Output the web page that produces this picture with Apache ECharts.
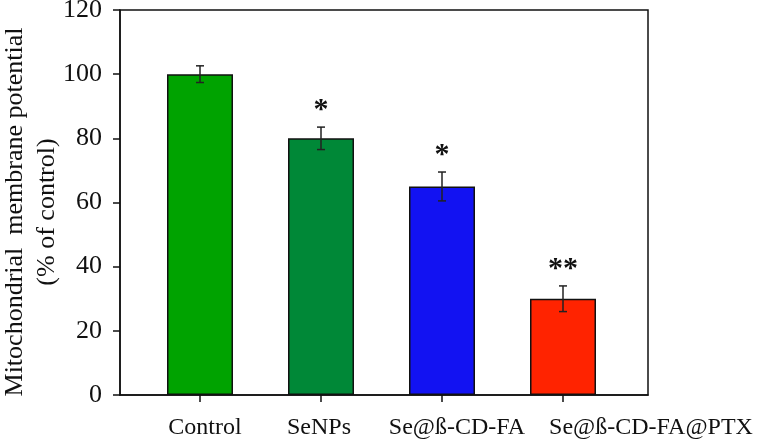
<!DOCTYPE html>
<html>
<head>
<meta charset="utf-8">
<script src="https://cdn.jsdelivr.net/npm/echarts@6/dist/echarts.min.js"></script>
<style>html,body{margin:0;padding:0;background:#fff}#c{width:778px;height:446px}</style>
</head>
<body>
<div id="c"></div>
<script>
var categories = ['Control', 'SeNPs', 'Se@ß-CD-FA', 'Se@ß-CD-FA@PTX'];
var values = [100, 80, 65, 30];
var errors = [2.6, 3.5, 4.5, 4.0];
var marks = ['', '*', '*', '**'];
var colors = ['#00A300', '#008837', '#1212F2', '#FF2300'];
var yTicks = [0, 20, 40, 60, 80, 100, 120];
var yTitle = 'Mitochondrial  membrane potential\n(% of control)';
var labelShift = [10, -4, 30, 176];

var FONT = '"Liberation Serif", "Times New Roman", serif';
var chart = echarts.init(document.getElementById('c'), null, {renderer: 'canvas'});

var richLabels = {};
categories.forEach(function (c, i) {
  var p = labelShift[i];
  richLabels['l' + i] = {
    fontFamily: FONT, fontSize: 24, color: '#111',
    padding: p >= 0 ? [0, 0, 0, p] : [0, -p, 0, 0]
  };
});

var option = {
  backgroundColor: '#fff',
  animation: false,
  graphic: [
    {type: 'text', x: 31, y: 212, rotation: Math.PI / 2,
     style: {text: yTitle, fill: '#111', font: '26px ' + FONT, align: 'center', verticalAlign: 'middle', lineHeight: 32}}
  ],
  grid: [
    {left: 120, top: 10, width: 528, height: 385, show: true, borderColor: '#111', borderWidth: 1.5, containLabel: false, outerBoundsMode: 'none'},
    {left: 139.5, top: 10, width: 484, height: 385, containLabel: false, outerBoundsMode: 'none'}
  ],
  xAxis: [
    {gridIndex: 0, type: 'category', data: categories, axisLine: {show: true, lineStyle: {color: '#111', width: 1.5}},
     axisTick: {show: false}, axisLabel: {show: false}, splitLine: {show: false}},
    {gridIndex: 1, type: 'category', data: categories, boundaryGap: true,
     axisLine: {show: false},
     axisTick: {show: true, alignWithLabel: true, length: 7, lineStyle: {color: '#111', width: 1.5}},
     axisLabel: {show: true, margin: 21, interval: 0,
       formatter: function (v, i) { return '{l' + i + '|' + v + '}'; },
       rich: richLabels},
     splitLine: {show: false}}
  ],
  yAxis: [
    {gridIndex: 0, type: 'value', min: 0, max: 120, interval: 20,
     axisLine: {show: true, lineStyle: {color: '#111', width: 1.5}},
     axisTick: {show: true, length: 7, lineStyle: {color: '#111', width: 1.5}},
     axisLabel: {show: true, margin: 18, fontFamily: FONT, fontSize: 26, color: '#111',
       formatter: function (v) { return yTicks.indexOf(v) >= 0 ? String(v) : ''; }},
     splitLine: {show: false}},
    {gridIndex: 1, type: 'value', min: 0, max: 120, interval: 20, show: false}
  ],
  series: [
    {
      type: 'bar', xAxisIndex: 1, yAxisIndex: 1, barWidth: 66,
      data: values.map(function (v, i) {
        return {value: v, itemStyle: {color: colors[i], borderColor: '#111', borderWidth: 1.5}};
      })
    },
    {
      type: 'custom', xAxisIndex: 1, yAxisIndex: 1,
      data: values.map(function (v, i) { return [i, v, errors[i], marks[i]]; }),
      renderItem: function (params, api) {
        var i = api.value(0), v = api.value(1), e = api.value(2);
        var m = marks[params.dataIndex];
        var top = api.coord([i, v + e]);
        var bot = api.coord([i, v - e]);
        var cap = 4;
        var st = {stroke: '#222', lineWidth: 1.5};
        var children = [
          {type: 'line', shape: {x1: top[0], y1: top[1], x2: bot[0], y2: bot[1]}, style: st},
          {type: 'line', shape: {x1: top[0] - cap, y1: top[1], x2: top[0] + cap, y2: top[1]}, style: st},
          {type: 'line', shape: {x1: bot[0] - cap, y1: bot[1], x2: bot[0] + cap, y2: bot[1]}, style: st}
        ];
        if (m) {
          children.push({type: 'text', x: top[0], y: top[1] - 2,
            style: {text: m, fill: '#111', font: 'bold 30px ' + FONT, align: 'center', verticalAlign: 'bottom'}});
        }
        return {type: 'group', children: children};
      },
      z: 5
    }
  ]
};
chart.setOption(option);
</script>
</body>
</html>
